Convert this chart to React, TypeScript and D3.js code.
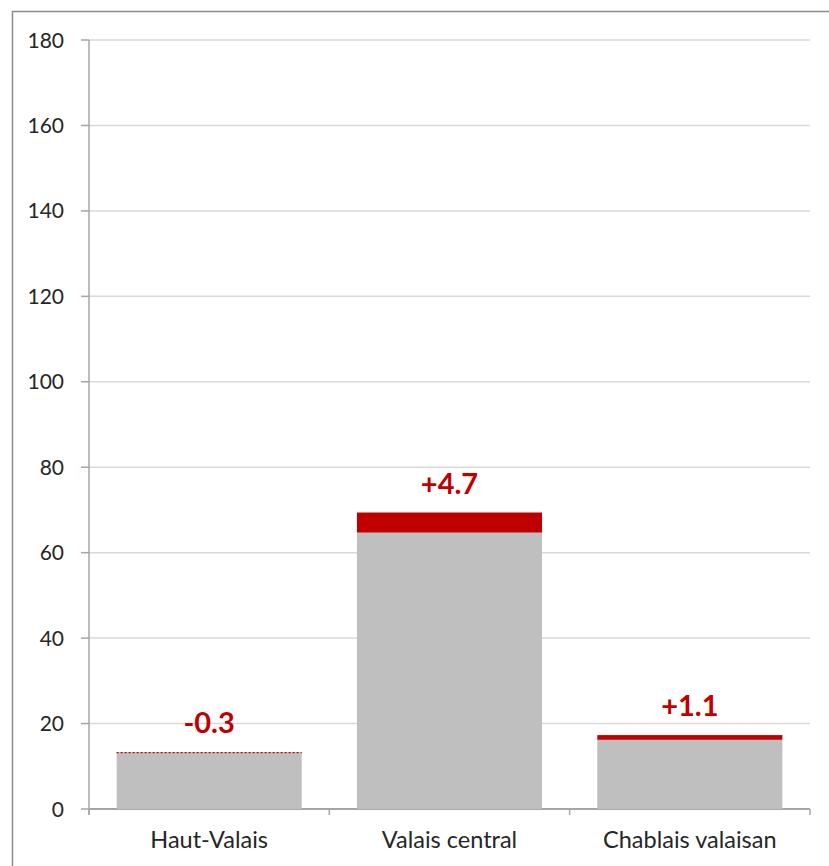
import React from "react";
import * as d3 from "d3";

const categories = ["Haut-Valais", "Valais central", "Chablais valaisan"];
const baseValues = [13.3, 64.7, 16.2];
const changes = [-0.3, 4.7, 1.1];
const changeLabels = ["-0.3", "+4.7", "+1.1"];
const yTicks = [0, 20, 40, 60, 80, 100, 120, 140, 160, 180];

export default function App() {
  const W = 829, H = 866;
  const left = 89, right = 810, top = 40, bottom = 809;
  const x = d3.scaleBand<string>().domain(categories).range([left, right]).paddingInner(0.23).paddingOuter(0.115);
  const y = d3.scaleLinear().domain([0, 180]).range([bottom, top]);
  const red = "#c00000";
  const font = "Lato, 'Open Sans', sans-serif";
  const bandStep = (right - left) / categories.length;
  return (
    <svg width={W} height={H} style={{ position: "absolute", left: 0, top: 0 }}>
      <rect x={0} y={0} width={W} height={H} fill="#fff" />
      <rect x={12.5} y={11.5} width={W + 10} height={H + 10} fill="none" stroke="#8c8c8c" strokeWidth={1.5} />
      {yTicks.map((t) => (
        <g key={t}>
          <line x1={left} x2={right} y1={y(t)} y2={y(t)} stroke={t === 0 ? "#a6a6a6" : "#d9d9d9"} strokeWidth={t === 0 ? 2 : 1.5} />
          <line x1={left - 8} x2={left} y1={y(t)} y2={y(t)} stroke="#a6a6a6" strokeWidth={1.5} />
          <text x={64} y={y(t)} dy="0.36em" textAnchor="end" fontFamily={font} fontSize={21} fill="#262626">{t}</text>
        </g>
      ))}
      <line x1={left} x2={left} y1={top} y2={bottom + 6} stroke="#a6a6a6" strokeWidth={1.5} />
      {d3.range(categories.length + 1).map((i) => (
        <line key={i} x1={left + i * bandStep} x2={left + i * bandStep} y1={bottom} y2={bottom + 6} stroke="#a6a6a6" strokeWidth={1.5} />
      ))}
      {categories.map((c, i) => {
        const bx = x(c)!;
        const bw = x.bandwidth();
        const base = baseValues[i];
        const ch = changes[i];
        const topVal = ch > 0 ? base + ch : base;
        return (
          <g key={c}>
            <rect x={bx} y={y(base)} width={bw} height={y(0) - y(base)} fill="#bfbfbf" />
            {ch > 0 ? (
              <rect x={bx} y={y(base + ch)} width={bw} height={y(base) - y(base + ch)} fill={red} />
            ) : (
              <line x1={bx} x2={bx + bw} y1={y(base) + 0.5} y2={y(base) + 0.5} stroke={red} strokeWidth={1.2} strokeDasharray="2,2" />
            )}
            <text x={bx + bw / 2} y={y(topVal) - 19} textAnchor="middle" fontFamily={font} fontWeight="bold" fontSize={29} fill={red}>{changeLabels[i]}</text>
            <text x={bx + bw / 2} y={840} dy="0.36em" textAnchor="middle" fontFamily={font} fontSize={23.5} fill="#262626">{c}</text>
          </g>
        );
      })}
    </svg>
  );
}
